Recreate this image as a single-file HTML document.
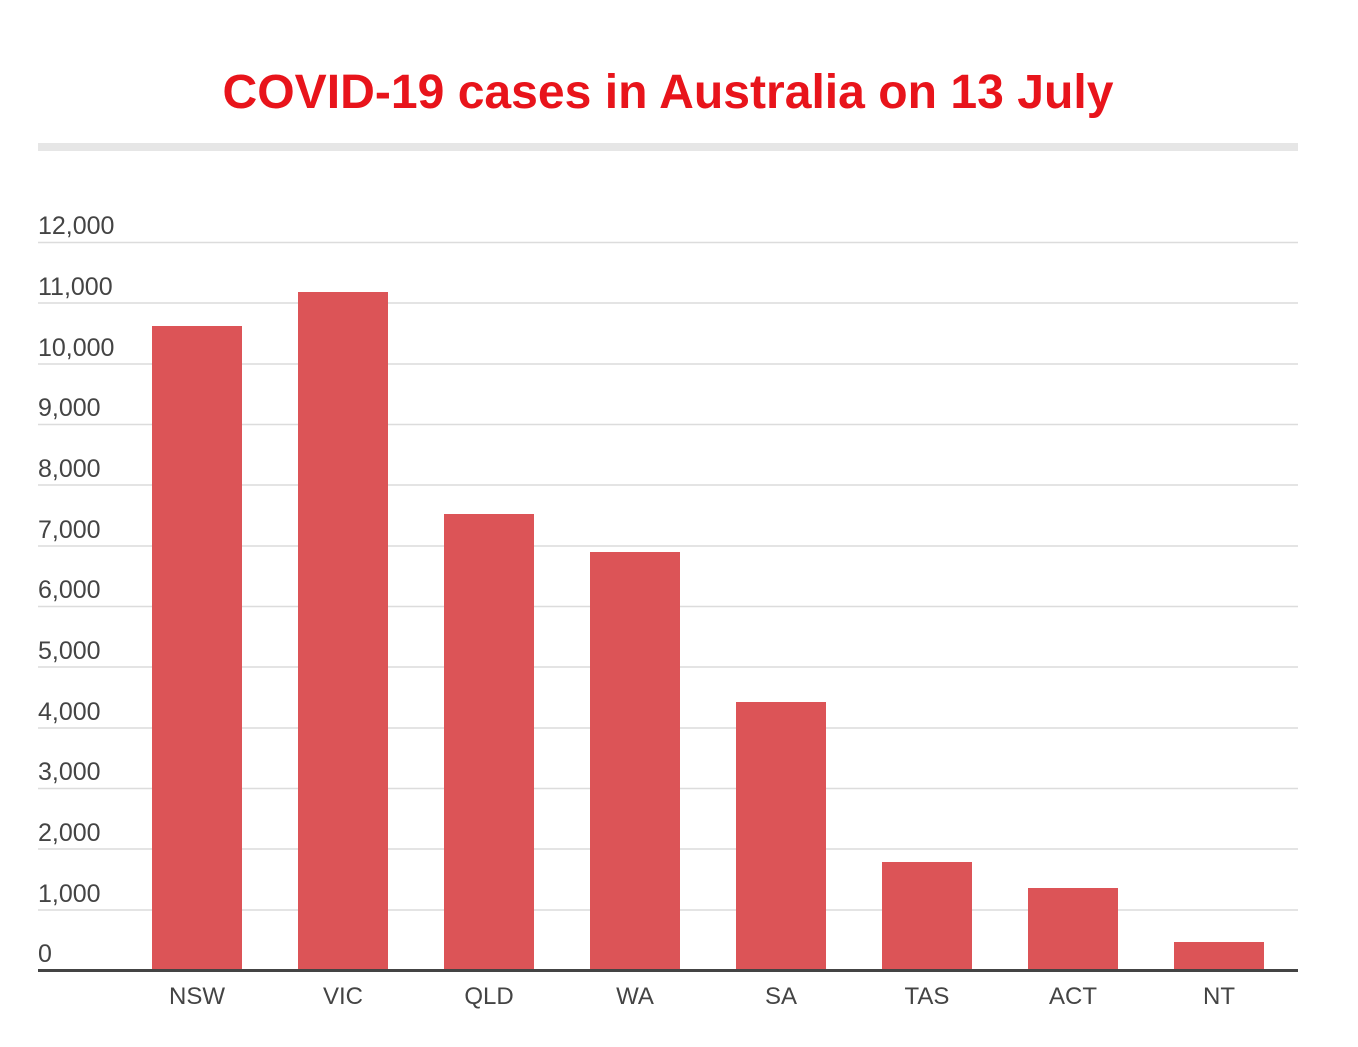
<!DOCTYPE html>
<html><head><style>
body{margin:0;background:#fff;width:1358px;height:1042px;overflow:hidden;font-family:"Liberation Sans",Arial,sans-serif}
</style></head><body>
<svg width="1358" height="1042" xmlns="http://www.w3.org/2000/svg">
<text x="668" y="108" text-anchor="middle" font-family="Liberation Sans, Arial, sans-serif" font-weight="bold" font-size="48" textLength="891" lengthAdjust="spacingAndGlyphs" fill="#e8141b">COVID-19 cases in Australia on 13 July</text>
<rect x="38" y="143" width="1260" height="8" fill="#e6e6e6"/>
<g stroke="#dcdcdc" stroke-width="1.5">
<line x1="38" x2="1298" y1="242.5" y2="242.5"/>
<line x1="38" x2="1298" y1="303" y2="303"/>
<line x1="38" x2="1298" y1="364" y2="364"/>
<line x1="38" x2="1298" y1="424.5" y2="424.5"/>
<line x1="38" x2="1298" y1="485" y2="485"/>
<line x1="38" x2="1298" y1="546" y2="546"/>
<line x1="38" x2="1298" y1="606.5" y2="606.5"/>
<line x1="38" x2="1298" y1="667" y2="667"/>
<line x1="38" x2="1298" y1="728" y2="728"/>
<line x1="38" x2="1298" y1="788.5" y2="788.5"/>
<line x1="38" x2="1298" y1="849" y2="849"/>
<line x1="38" x2="1298" y1="910" y2="910"/>
</g>
<g font-size="25" fill="#444" font-family="Liberation Sans, Arial, sans-serif">
<text x="38" y="234">12,000</text>
<text x="38" y="295">11,000</text>
<text x="38" y="356">10,000</text>
<text x="38" y="416">9,000</text>
<text x="38" y="477">8,000</text>
<text x="38" y="538">7,000</text>
<text x="38" y="598">6,000</text>
<text x="38" y="659">5,000</text>
<text x="38" y="720">4,000</text>
<text x="38" y="780">3,000</text>
<text x="38" y="841">2,000</text>
<text x="38" y="902">1,000</text>
<text x="38" y="962">0</text>
</g>
<g fill="#dc5457">
<rect x="152" y="326" width="90" height="645"/>
<rect x="298" y="292" width="90" height="679"/>
<rect x="444" y="514" width="90" height="457"/>
<rect x="590" y="552" width="90" height="419"/>
<rect x="736" y="702" width="90" height="269"/>
<rect x="882" y="862" width="90" height="109"/>
<rect x="1028" y="888" width="90" height="83"/>
<rect x="1174" y="942" width="90" height="29"/>
</g>
<rect x="38" y="969" width="1260" height="3" fill="#444"/>
<g font-size="24" fill="#444" text-anchor="middle" font-family="Liberation Sans, Arial, sans-serif">
<text x="197" y="1004">NSW</text>
<text x="343" y="1004">VIC</text>
<text x="489" y="1004">QLD</text>
<text x="635" y="1004">WA</text>
<text x="781" y="1004">SA</text>
<text x="927" y="1004">TAS</text>
<text x="1073" y="1004">ACT</text>
<text x="1219" y="1004">NT</text>
</g>
</svg>
</body></html>
